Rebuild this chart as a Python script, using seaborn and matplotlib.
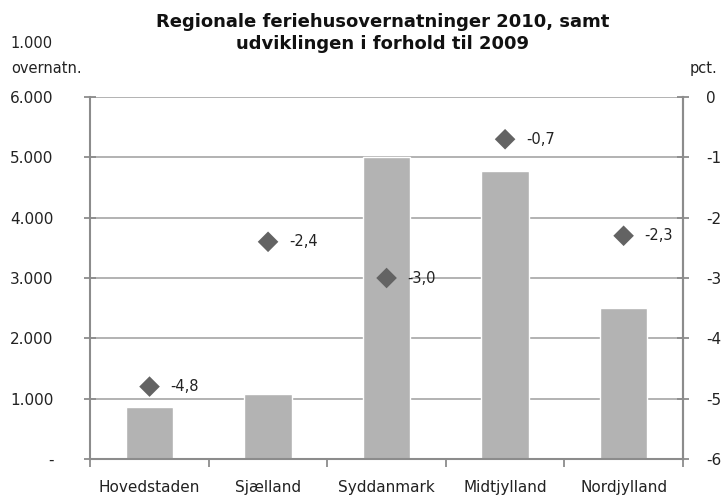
import numpy as np
import pandas as pd
import matplotlib
matplotlib.use("Agg")
import matplotlib.pyplot as plt
from matplotlib.ticker import FixedLocator, FuncFormatter
import seaborn as sns

# data
regions = ["Hovedstaden", "Sjælland", "Syddanmark", "Midtjylland", "Nordjylland"]
overnatninger = [860, 1080, 5010, 4780, 2510]  # 1.000 overnatninger
udvikling = [-4.8, -2.4, -3.0, -0.7, -2.3]      # pct.

BAR_COLOR = "#b3b3b3"
DOT_COLOR = "#636363"
AXIS_COLOR = "#8c8c8c"
GRID_COLOR = "#a6a6a6"


def thousands(v, _pos):
    if v == 0:
        return "-"
    return f"{int(v):,}".replace(",", ".")


def main():
    sns.set_theme(style="white")
    plt.rcParams["font.family"] = ["DejaVu Sans"]

    df = pd.DataFrame({"region": regions, "overnatn": overnatninger, "pct": udvikling})

    fig = plt.figure(figsize=(7.28, 5.0), dpi=100)
    ax = fig.add_axes([0.124, 0.082, 0.814, 0.724])

    sns.barplot(data=df, x="region", y="overnatn", color=BAR_COLOR, width=0.4,
                saturation=1, ax=ax, zorder=2)
    ax.set_ylim(0, 6000)
    ax.set_xlim(-0.5, len(regions) - 0.5)
    ax.yaxis.set_major_locator(FixedLocator(np.arange(0, 6001, 1000)))
    ax.yaxis.set_major_formatter(FuncFormatter(thousands))
    ax.yaxis.grid(True, color=GRID_COLOR, linewidth=1.2, zorder=0)
    ax.set_axisbelow(True)
    ax.set_xlabel("")
    ax.set_ylabel("")

    ax.spines["top"].set_visible(False)
    for side in ["left", "right", "bottom"]:
        ax.spines[side].set_color(AXIS_COLOR)
        ax.spines[side].set_linewidth(1.5)

    ax.tick_params(axis="y", direction="inout", length=9, width=1.3, color=AXIS_COLOR,
                   labelsize=11, labelcolor="#222222", pad=22, left=True)
    ax.tick_params(axis="x", which="major", length=0, labelsize=11,
                   labelcolor="#222222", pad=15)
    ax.set_xticks(np.arange(-0.5, len(regions), 1.0), minor=True)
    ax.tick_params(axis="x", which="minor", direction="out", length=6, width=1.3,
                   color=AXIS_COLOR, bottom=True)

    ax2 = ax.twinx()
    sns.scatterplot(data=df, x="region", y="pct", marker="D", s=110, color=DOT_COLOR,
                    edgecolor="none", ax=ax2, zorder=3)
    ax2.set_ylim(-6, 0)
    ax2.yaxis.set_major_locator(FixedLocator(np.arange(-6, 1, 1)))
    ax2.yaxis.set_major_formatter(FuncFormatter(lambda v, p: f"{int(v)}"))
    ax2.set_ylabel("")
    for side in ["top", "left", "bottom"]:
        ax2.spines[side].set_visible(False)
    ax2.spines["right"].set_color(AXIS_COLOR)
    ax2.spines["right"].set_linewidth(1.5)
    ax2.tick_params(axis="y", direction="inout", length=9, width=1.3, color=AXIS_COLOR,
                    labelsize=11, labelcolor="#222222", pad=12)

    for i, v in enumerate(udvikling):
        ax2.annotate(f"{v:.1f}".replace(".", ","), (i, v), xytext=(15, 0),
                     textcoords="offset points", va="center", ha="left",
                     fontsize=10.5, color="#222222")

    fig.text(0.525, 0.934, "Regionale feriehusovernatninger 2010, samt\nudviklingen i forhold til 2009",
             ha="center", va="center", fontsize=13, fontweight="bold",
             linespacing=1.3, color="#111111")
    fig.text(0.015, 0.912, "1.000", ha="left", va="center", fontsize=10.5, color="#222222")
    fig.text(0.015, 0.863, "overnatn.", ha="left", va="center", fontsize=10.5, color="#222222")
    fig.text(0.985, 0.863, "pct.", ha="right", va="center", fontsize=10.5, color="#222222")

    fig.savefig("out.png", dpi=100)


if __name__ == "__main__":
    main()
